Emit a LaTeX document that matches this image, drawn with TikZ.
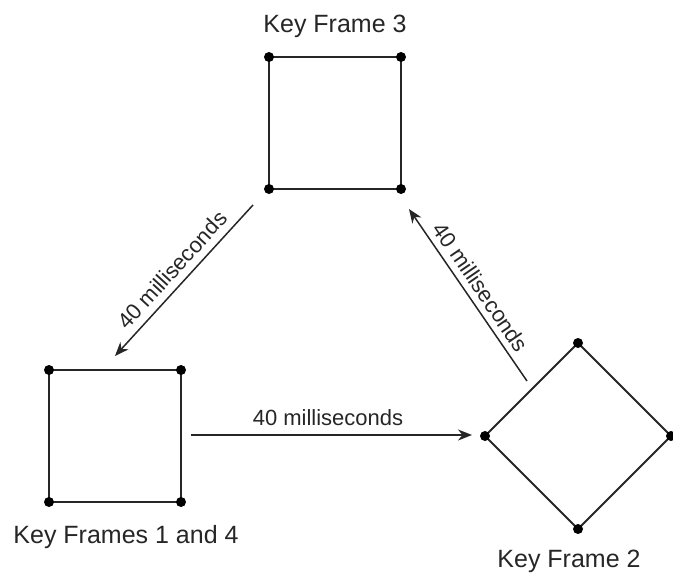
\documentclass[tikz,border=0pt]{standalone}
\usepackage{fontspec}
\setmainfont{Liberation Sans}
\usetikzlibrary{arrows.meta}
\begin{document}
\begin{tikzpicture}[x=1pt,y=-1pt,
  ink/.style={draw=black!85, line width=1.9pt},
  frame/.style={ink, line join=miter},
  corner/.style={circle, fill=black, inner sep=0pt, minimum size=10pt},
  flow/.style={draw=black!85, line width=1.5pt, -{Stealth[length=14pt,width=11pt,inset=4.5pt]}},
  keylabel/.style={anchor=base, inner sep=0pt, text=black!85, font=\fontsize{25}{28}\selectfont},
  timelabel/.style={inner sep=0pt, text=black!85, font=\fontsize{22}{25}\selectfont}]
\useasboundingbox (0,0) rectangle (673,574);

% Key Frame 3: square at the top
\coordinate (c3a) at (269,57);
\coordinate (c3b) at (401,57);
\coordinate (c3c) at (401,189);
\coordinate (c3d) at (269,189);
\draw[frame] (c3a) -- (c3b) -- (c3c) -- (c3d) -- cycle;
\foreach \c in {c3a,c3b,c3c,c3d} \node[corner] at (\c) {};
\node[keylabel] (kf3) at (335,32) {Key Frame 3};

% Key Frames 1 and 4: square on the left
\coordinate (c1a) at (49,370);
\coordinate (c1b) at (181,370);
\coordinate (c1c) at (181,502);
\coordinate (c1d) at (49,502);
\draw[frame] (c1a) -- (c1b) -- (c1c) -- (c1d) -- cycle;
\foreach \c in {c1a,c1b,c1c,c1d} \node[corner] at (\c) {};
\node[keylabel] (kf1) at (126,543) {Key Frames 1 and 4};

% Key Frame 2: the square turned into a diamond
\coordinate (c2t) at (578,343);
\coordinate (c2r) at (671,436);
\coordinate (c2b) at (578,529);
\coordinate (c2l) at (485,436);
\draw[frame] (c2t) -- (c2r) -- (c2b) -- (c2l) -- cycle;
\foreach \c in {c2t,c2r,c2b,c2l} \node[corner] at (\c) {};
\node[keylabel] (kf2) at (569,567) {Key Frame 2};

% Transitions between the key frames
\coordinate (a1s) at (191,435);
\coordinate (a1e) at (472,435);
\draw[flow] (a1s) -- (a1e);
\node[timelabel] (t12) at (328,418) {40 milliseconds};

\coordinate (a2s) at (527,381);
\coordinate (a2e) at (409,209);
\draw[flow] (a2s) -- (a2e);
\node[timelabel, rotate=-55.5] (t23) at (481,287) {40 milliseconds};

\coordinate (a3s) at (253,205);
\coordinate (a3e) at (115,356);
\draw[flow] (a3s) -- (a3e);
\node[timelabel, rotate=47.6] (t31) at (172,270) {40 milliseconds};
\end{tikzpicture}
\end{document}
